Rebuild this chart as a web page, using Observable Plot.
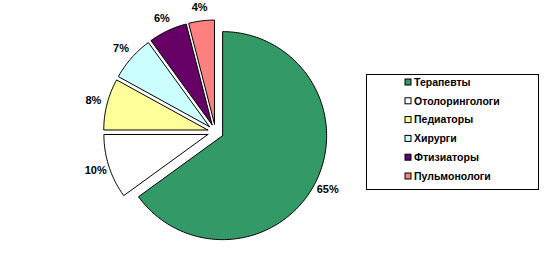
<!DOCTYPE html>
<html>
<head>
<meta charset="utf-8">
<script src="https://cdn.jsdelivr.net/npm/d3@7"></script>
<script src="https://cdn.jsdelivr.net/npm/@observablehq/plot@0.6"></script>
<style>
  html, body { margin: 0; padding: 0; background: #fff; }
  svg { display: block; }
</style>
</head>
<body>
<div id="chart"></div>
<script>
// ---- data ----
const categories = ["Терапевты", "Отолорингологи", "Педиаторы", "Хирурги", "Фтизиаторы", "Пульмонологи"];
const values = [65, 10, 8, 7, 6, 4];
const valueLabels = ["65%", "10%", "8%", "7%", "6%", "4%"];

// ---- style / layout ----
const colors = ["#339966", "#FFFFFF", "#FFFF99", "#CCFFFF", "#660066", "#FF8080"];
const W = 550, H = 263;
const cx = 215, cy = 131.5, R = 104, explode = 8, labelR = 118;
const font = "Arial, 'Liberation Sans', sans-serif";
const legend = {x1: 366.5, x2: 538.5, y1: 74.5, y2: 189.5, row0: 82, step: 18.8, sw: 405, tx: 413.5};

// ---- geometry from data ----
const total = d3.sum(values);
let acc = 0;
const slices = values.map((v, i) => {
  const a0 = acc / total * 2 * Math.PI;
  acc += v;
  const a1 = acc / total * 2 * Math.PI;
  const mid = (a0 + a1) / 2;
  const ox = cx + explode * Math.sin(mid), oy = cy - explode * Math.cos(mid);
  const n = Math.max(2, Math.ceil((a1 - a0) / (Math.PI / 180)));
  const pts = [{x: ox, y: oy}];
  for (let k = 0; k <= n; k++) {
    const a = a0 + (a1 - a0) * k / n;
    pts.push({x: ox + R * Math.sin(a), y: oy - R * Math.cos(a)});
  }
  pts.push({x: ox, y: oy});
  return {
    name: categories[i], color: colors[i], pts,
    lx: ox + labelR * Math.sin(mid), ly: oy - labelR * Math.cos(mid), label: valueLabels[i]
  };
});

const legendRows = categories.map((c, i) => ({name: c, color: colors[i], y: legend.row0 + i * legend.step}));

const chart = Plot.plot({
  width: W, height: H,
  margin: 0,
  x: {domain: [0, W], range: [0, W], axis: null},
  y: {domain: [0, H], range: [0, H], axis: null},
  style: {background: "#fff", fontFamily: font},
  marks: [
    ...slices.map(s => Plot.line(s.pts, {x: "x", y: "y", fill: s.color, stroke: "black", strokeWidth: 1, strokeLinejoin: "miter"})),
    Plot.text(slices, {x: "lx", y: "ly", text: "label", fontSize: 11, fontWeight: "bold", fill: "black", textAnchor: "middle", lineAnchor: "middle"}),
    Plot.rect([legend], {x1: "x1", x2: "x2", y1: "y1", y2: "y2", fill: "white", stroke: "black", strokeWidth: 1}),
    Plot.rect(legendRows, {x1: legend.sw, x2: legend.sw + 6, y1: d => d.y - 3, y2: d => d.y + 3, fill: "color", stroke: "black", strokeWidth: 1}),
    Plot.text(legendRows, {x: legend.tx, y: "y", text: "name", textAnchor: "start", lineAnchor: "middle", fontSize: 10.5, fontWeight: "bold", fill: "black"})
  ]
});
document.getElementById("chart").appendChild(chart);
</script>
</body>
</html>
